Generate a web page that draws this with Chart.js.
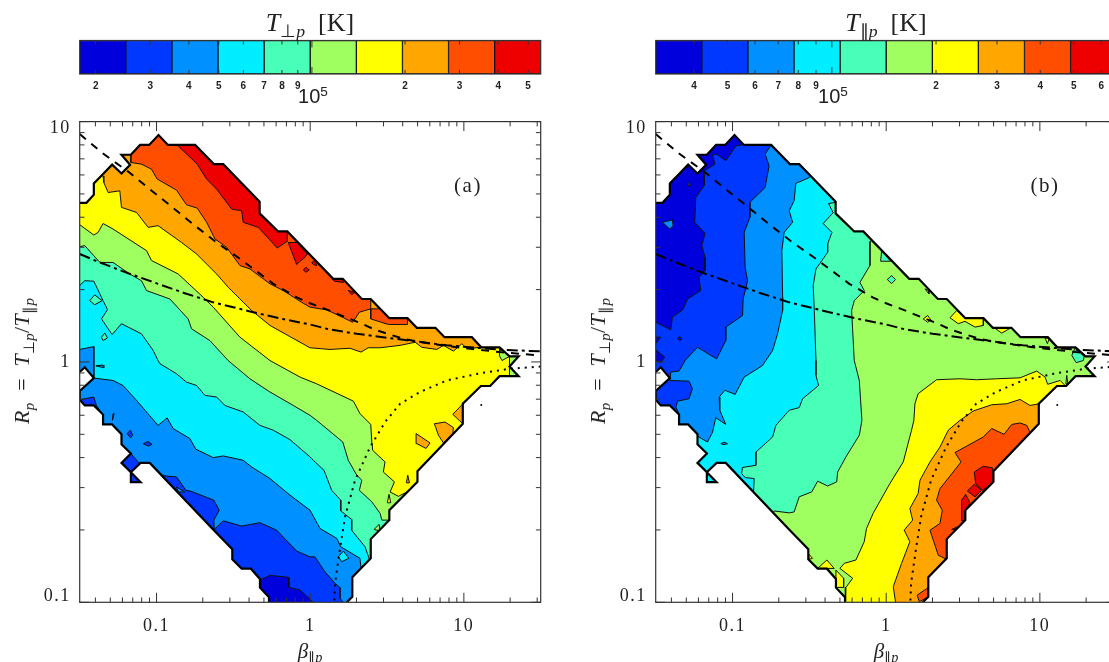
<!DOCTYPE html>
<html>
<head>
<meta charset="utf-8">
<script src="https://cdn.jsdelivr.net/npm/chart.js@4"></script>
<style>
  html, body { margin: 0; background: #fff; overflow: hidden; width: 1109px; height: 662px; }
  canvas { position: absolute; }
  .lab { position: absolute; transform: translate(-50%, -50%); white-space: nowrap; color: #222;
         font-family: "Liberation Serif", serif; }
  .lab sub { font-size: 68%; vertical-align: -0.35em; line-height: 0; }
  .lab sup { font-size: 68%; vertical-align: 0.45em; line-height: 0; }
  .title { font-size: 26px; }
  .ten { font-size: 20px; font-family: "Liberation Sans", sans-serif; }
  .xt { font-size: 21px; }
  .yt { font-size: 22px; letter-spacing: .3px; transform: translate(-50%, -50%) rotate(-90deg); }
  .tag { font-size: 21px; letter-spacing: 1.5px; }
</style>
</head>
<body>
<canvas id="cbA" width="560" height="70" style="left:0;top:30px"></canvas>
<canvas id="cbB" width="577" height="70" style="left:576px;top:30px"></canvas>
<canvas id="panelA" width="560" height="562" style="left:0;top:100px"></canvas>
<canvas id="panelB" width="577" height="562" style="left:576px;top:100px"></canvas>

<div class="lab title" style="left:310px;top:23px"><i>T</i><sub>⊥<i>p</i></sub>&nbsp; [K]</div>
<div class="lab title" style="left:886px;top:23px"><i>T</i><sub>∥<i>p</i></sub>&nbsp; [K]</div>
<div class="lab ten" style="left:313px;top:96px">10<sup>5</sup></div>
<div class="lab ten" style="left:833px;top:96px">10<sup>5</sup></div>
<div class="lab tag" style="left:468px;top:185px">(a)</div>
<div class="lab tag" style="left:1045px;top:185px">(b)</div>
<div class="lab xt" style="left:310px;top:651px"><i>β</i><sub>∥<i>p</i></sub></div>
<div class="lab xt" style="left:886px;top:651px"><i>β</i><sub>∥<i>p</i></sub></div>
<div class="lab yt" style="left:22px;top:361px"><i>R<sub>p</sub></i> &nbsp;= &nbsp;<i>T</i><sub>⊥<i>p</i></sub>/<i>T</i><sub>∥<i>p</i></sub></div>
<div class="lab yt" style="left:598px;top:361px"><i>R<sub>p</sub></i> &nbsp;= &nbsp;<i>T</i><sub>⊥<i>p</i></sub>/<i>T</i><sub>∥<i>p</i></sub></div>

<script>
// all curve points are [log10 beta, log10 R]
const bandColors = ['#0000dc', '#0038ff', '#0090ff', '#00eeff', '#48ffb8', '#a0ff60', '#ffff00', '#ffa600', '#ff4e00', '#ee0000'];

const betaTicks = [.04, .05, .06, .07, .08, .09, .1, .2, .3, .4, .5, .6, .7, .8, .9, 1, 2, 3, 4, 5, 6, 7, 8, 9, 10, 20, 30];
const rTicks = [.1, .2, .3, .4, .5, .6, .7, .8, .9, 1, 2, 3, 4, 5, 6, 7, 8, 9, 10];
const majorTicks = [.1, 1, 10];

const cbTicksA = [2e4, 3e4, 4e4, 5e4, 6e4, 7e4, 8e4, 9e4, 1e5, 2e5, 3e5, 4e5, 5e5];
const cbTicksB = [4e4, 5e4, 6e4, 7e4, 8e4, 9e4, 1e5, 2e5, 3e5, 4e5, 5e5, 6e5];
const cbEdgesA = [17750, 25020, 35270, 49700, 70070, 98740, 139200, 196200, 276500, 389700, 549000];
const cbEdgesB = [30990, 42120, 57230, 77780, 105700, 143600, 195200, 265100, 360300, 489600, 665300];

// occupied region of the plane, same in both panels
const edge = [[-1.5,.662],[-1.456,.662],[-1.408,.696],[-1.408,.743],[-1.348,.782],[-1.289,.821],[-1.228,.784],[-1.172,.82],[-1.228,.862],[-1.167,.862],[-1.107,.903],[-1.048,.903],[-.987,.944],[-.926,.903],[-.749,.903],[-.627,.823],[-.566,.823],[-.329,.667],[-.329,.618],[-.208,.543],[-.149,.543],[.15,.346],[.212,.346],[.336,.262],[.394,.262],[.515,.182],[.633,.182],[.694,.142],[.815,.142],[.874,.103],[1.052,.103],[1.113,.061],[1.232,.061],[1.297,.023],[1.356,.023],[1.297,-.019],[1.356,-.059],[1.232,-.059],[1.171,-.1],[1.111,-.1],[.993,-.174],[.993,-.257],[.698,-.455],[.698,-.499],[.515,-.617],[.515,-.658],[.394,-.737],[.394,-.817],[.274,-.896],[.274,-.977],[.238,-1],[-.268,-1],[-.268,-.979],[-.327,-.939],[-.327,-.903],[-.386,-.86],[-.446,-.86],[-.507,-.821],[-.507,-.779],[-.627,-.7],[-1.044,-.42],[-1.104,-.42],[-1.167,-.459],[-1.104,-.5],[-1.167,-.5],[-1.167,-.459],[-1.228,-.42],[-1.167,-.381],[-1.228,-.343],[-1.228,-.301],[-1.289,-.26],[-1.348,-.26],[-1.348,-.219],[-1.408,-.181],[-1.467,-.181],[-1.5,-.157],[-1.5,-.121],[-1.408,-.067],[-1.467,-.022],[-1.5,-.042]];

const dashedCurve = [[-1.5,.948],[-1.348,.867],[-1.185,.792],[-1.044,.719],[-.902,.646],[-.75,.567],[-.609,.497],[-.457,.429],[-.24,.325],[-.088,.269],[-.001,.244],[.096,.221],[.336,.159],[.422,.134],[.607,.096],[.78,.076],[.954,.061],[1.236,.041],[1.5,.027]];
const dashDotCurve = [[-1.5,.449],[-1.369,.414],[-1.185,.369],[-.99,.325],[-.816,.286],[-.631,.248],[-.371,.207],[-.153,.175],[-.001,.156],[.107,.138],[.303,.117],[.607,.092],[.889,.069],[1.236,.051],[1.5,.044]];
const dottedCurve = [[1.5,-.019],[1.302,-.028],[1.106,-.047],[.889,-.077],[.715,-.125],[.585,-.174],[.487,-.25],[.39,-.354],[.292,-.492],[.227,-.644],[.194,-.776],[.162,-.921],[.157,-1]];
const strayPoint = [[1.113,-.179]];

// corners outside the axes, used to close the level regions
const BL = [-1.6,-1.1], BR = [1.6,-1.1], TR = [1.6,1.1], TL = [-1.6,1.1];

// panel (a), T perp levels
const a1 = [[-.36,-.949],[-.327,-.907],[-.262,-.888],[-.143,-.896],[-.138,-.938],[-.066,-.949],[.031,-1.007],BR,TR,TL,BL];
const a2 = [[-1.565,-.157],[-1.495,-.157],[-1.408,-.146],[-1.391,-.181],[-1.348,-.222],[-1.369,-.368],[-1.239,-.43],[-1.228,-.42],[-1.167,-.381],[-1.115,-.42],[-1.044,-.42],[-.99,-.467],[-.935,-.475],[-.87,-.478],[-.809,-.534],[-.777,-.538],[-.627,-.575],[-.592,-.617],[-.627,-.658],[-.625,-.697],[-.566,-.661],[-.446,-.683],[-.327,-.669],[-.218,-.7],[-.088,-.787],[-.001,-.811],[.031,-.811],[.096,-.873],[.162,-.921],[.194,-.939],[.194,-.983],[.216,-1.001],[.216,-1.032],BR,TR,TL];
const a3 = [[-1.565,.052],[-1.5,.052],[-1.408,.064],[-1.408,-.067],[-1.283,-.077],[-1.218,-.098],[-1.13,-.16],[-.99,-.264],[-.931,-.233],[-.892,-.277],[-.783,-.319],[-.744,-.363],[-.631,-.398],[-.566,-.391],[-.436,-.409],[-.381,-.437],[-.262,-.485],[-.132,-.554],[-.001,-.617],[.064,-.693],[.173,-.734],[.199,-.769],[.324,-.817],[.331,-.863],[.357,-.99],BR,TR,TL];
const a4 = [[-1.565,.318],[-1.5,.318],[-1.467,.338],[-1.408,.336],[-1.348,.255],[-1.319,.218],[-1.358,.179],[-1.289,.114],[-1.228,.159],[-1.098,.117],[-1.022,.048],[-.99,.006],[-.978,-.007],[-.87,-.049],[-.805,-.084],[-.739,-.098],[-.685,-.139],[-.609,-.146],[-.555,-.181],[-.436,-.208],[-.327,-.264],[-.24,-.284],[-.132,-.323],[-.001,-.395],[.02,-.409],[.09,-.451],[.14,-.534],[.199,-.575],[.199,-.62],[.27,-.655],[.27,-.7],[.357,-.769],[.383,-.817],[.422,-.907],BR,TR,TL];
const a5 = [[-1.565,.48],[-1.5,.48],[-1.467,.484],[-1.369,.414],[-1.283,.414],[-1.174,.366],[-1.098,.338],[-1.065,.297],[-.913,.262],[-.794,.179],[-.772,.138],[-.653,.089],[-.534,.006],[-.392,-.07],[-.262,-.125],[-.11,-.181],[-.001,-.222],[.042,-.243],[.212,-.333],[.248,-.409],[.303,-.471],[.336,-.492],[.32,-.534],[.401,-.582],[.455,-.63],[.466,-.658],[.515,-.658],[.552,-.7],BR,TR,TL];
const a6 = [[-1.565,.571],[-1.5,.571],[-1.408,.528],[-1.38,.539],[-1.348,.576],[-1.283,.553],[-1.065,.463],[-1.033,.422],[-.859,.366],[-.696,.269],[-.631,.228],[-.457,.103],[-.262,.006],[-.066,-.063],[.042,-.091],[.281,-.163],[.324,-.215],[.394,-.26],[.401,-.333],[.407,-.368],[.487,-.416],[.476,-.458],[.548,-.499],[.52,-.541],[.574,-.559],[.629,-.541],[.715,-.617],BR,TR,TL];
const a7 = [[-1.413,.782],[-1.348,.774],[-1.343,.747],[-1.315,.705],[-1.239,.712],[-1.228,.643],[-1.13,.622],[-1.055,.56],[-.99,.567],[-.837,.497],[-.739,.449],[-.609,.366],[-.534,.311],[-.381,.214],[-.262,.152],[-.066,.082],[-.001,.059],[.129,.052],[.259,.057],[.331,.041],[.378,.059],[.455,.059],[.585,.069],[.683,.082],[.726,.061],[.824,.052],[.867,.069],[.932,.045],[.987,.076],[1.02,.055],[1.106,.061],[1.2,.12],TR,TL];
const a8 = [[-1.195,.871],[-1.167,.862],[-1.167,.83],[-1.098,.823],[-1.033,.802],[-.996,.761],[-.87,.715],[-.805,.654],[-.735,.64],[-.674,.581],[-.62,.512],[-.544,.477],[-.457,.401],[-.392,.387],[-.262,.325],[-.175,.297],[-.055,.248],[-.001,.228],[.064,.221],[.107,.217],[.216,.184],[.277,.165],[.32,.207],[.394,.221],[.394,.179],[.509,.156],[.633,.156],[.633,.182],[.65,.255],TR,TL];
const a9 = [[-.913,.92],[-.866,.903],[-.735,.823],[-.674,.761],[-.609,.719],[-.511,.636],[-.446,.629],[-.436,.581],[-.338,.56],[-.214,.474],[-.149,.502],[-.149,.543],[-.099,.588],TR];
const aIsles = [
  [3, [[.183,-.811],[.216,-.787],[.251,-.817],[.205,-.831]]],
  [4, [[-1.435,.255],[-1.402,.279],[-1.354,.255],[-1.402,.238]]],
  [4, [[-1.358,.103],[-1.337,.12],[-1.319,.1],[-1.348,.089]]],
  [2, [[-1.395,-.016],[-1.348,-.013],[-1.343,-.024]]],
  [1, [[-1.283,-.215],[-1.276,-.215],[-1.287,-.243]]],
  [1, [[-1.192,-.298],[-1.169,-.284],[-1.156,-.305],[-1.169,-.316]]],
  [1, [[-1.087,-.34],[-1.055,-.331],[-1.029,-.343],[-1.055,-.35]]],
  [2, [[-.87,-.52],[-.816,-.541],[-.859,-.541]]],
  [5, [[.416,-.697],[.448,-.676],[.455,-.703]]],
  [7, [[.689,-.298],[.78,-.337],[.754,-.36],[.694,-.34]]],
  [7, [[.808,-.257],[.878,-.25],[.932,-.273],[.928,-.298],[.867,-.337],[.835,-.305]]],
  [7, [[.928,-.218],[.991,-.176],[.993,-.257]]],
  [7, [[.635,-.471],[.626,-.503],[.646,-.503]]],
  [6, [[.513,-.551],[.502,-.586],[.524,-.586]]],
  [7, [[.394,.258],[.45,.221],[.394,.221]]],
  [9, [[-.143,.497],[-.088,.497],[-.019,.449],[-.034,.435],[-.066,.419],[-.088,.405]]],
  [9, [[-.045,.383],[-.027,.394],[-.006,.383],[-.027,.373]]],
  [9, [[.144,.346],[.212,.346],[.216,.331],[.157,.336]]],
  [9, [[.01,.414],[.031,.422],[.042,.401],[.02,.405]]],
  [9, [[.248,.297],[.292,.29],[.27,.28]]],
  [5, [[1.232,.059],[1.297,.023],[1.248,.006],[1.23,.027]]],
  [5, [[1.297,.023],[1.356,.023],[1.297,-.019]]],
  [5, [[1.297,-.019],[1.356,-.059],[1.297,-.056]]]
];

// panel (b), T parallel levels
const b1 = [[-.913,.927],[-.935,.904],[-.978,.899],[-1.044,.837],[-1.104,.865],[-1.13,.862],[-1.115,.823],[-1.185,.795],[-1.185,.733],[-1.239,.684],[-1.246,.581],[-1.179,.535],[-1.2,.484],[-1.179,.435],[-1.179,.38],[-1.218,.352],[-1.207,.297],[-1.293,.262],[-1.322,.218],[-1.391,.186],[-1.402,.134],[-1.5,.165],[-1.565,.165],BL,BR,TR];
const b2 = [[-.762,.92],[-.749,.903],[-.788,.865],[-.762,.816],[-.788,.726],[-.887,.664],[-.887,.601],[-.924,.539],[-.918,.394],[-.902,.338],[-.931,.262],[-.935,.193],[-1.044,.145],[-1.044,.089],[-1.076,.048],[-1.104,.013],[-1.195,.048],[-1.228,.061],[-1.309,.006],[-1.348,-.038],[-1.402,-.042],[-1.408,-.077],[-1.283,-.08],[-1.261,-.111],[-1.283,-.153],[-1.358,-.163],[-1.369,-.188],[-1.348,-.215],[-1.402,-.264],BL,BR,TR];
const b3 = [[-.479,.788],[-.501,.767],[-.588,.743],[-.599,.671],[-.631,.629],[-.609,.581],[-.664,.539],[-.679,.463],[-.674,.269],[-.674,.214],[-.707,.117],[-.739,.048],[-.805,-.015],[-.924,-.063],[-.983,-.135],[-1.05,-.118],[-1.087,-.146],[-1.083,-.201],[-1.044,-.26],[-1.109,-.232],[-1.13,-.292],[-1.163,-.333],[-1.228,-.309],[-1.337,-.309],BL,BR,TR];
const b4 = [[-.262,.671],[-.375,.659],[-.345,.621],[-.41,.576],[-.353,.539],[-.381,.491],[-.381,.456],[-.457,.387],[-.475,.318],[-.468,.214],[-.457,.006],[-.457,-.056],[-.44,-.098],[-.544,-.153],[-.566,-.19],[-.631,-.201],[-.718,-.264],[-.739,-.312],[-.848,-.375],[-.848,-.43],[-.935,-.439],[-.941,-.464],[-.918,-.481],[-.859,-.485],[-.863,-.538],[-.913,-.561],BL,BR,TR];
const b5 = [[-.066,.518],[-.106,.5],[-.106,.401],[-.171,.331],[-.143,.297],[-.208,.255],[-.225,.214],[-.208,.006],[-.175,-.077],[-.158,-.243],[-.175,-.305],[-.262,-.395],[-.316,-.458],[-.322,-.499],[-.381,-.516],[-.446,-.496],[-.485,-.541],[-.566,-.561],[-.599,-.624],[-.631,-.628],[-.729,-.62],[-.762,-.658],BL,BR,TR];
const b6 = [[1.3,-.1],[1.164,-.098],[1.132,-.077],[1.051,-.093],[1.034,-.063],[.98,-.038],[.871,-.066],[.719,-.07],[.589,-.074],[.48,-.07],[.328,-.074],[.208,-.132],[.187,-.174],[.18,-.243],[.165,-.284],[.111,-.416],[.024,-.506],[-.085,-.63],[-.128,-.693],[-.143,-.748],[-.197,-.824],[-.273,-.838],[-.301,-.859],[-.218,-.9],[-.262,-.938],[-.262,-.983],[-.268,-1],[-.268,-1.1],BR];
const b7 = [[1.045,-.174],[.997,-.174],[.936,-.181],[.871,-.156],[.784,-.174],[.687,-.178],[.567,-.204],[.48,-.243],[.404,-.284],[.35,-.354],[.285,-.416],[.22,-.492],[.208,-.547],[.154,-.61],[.172,-.658],[.117,-.7],[.154,-.748],[.1,-.838],[.046,-.935],[.061,-1],[.061,-1.1],BR];
const b8 = [[.98,-.298],[.936,-.294],[.915,-.264],[.871,-.254],[.817,-.26],[.767,-.301],[.687,-.277],[.632,-.312],[.448,-.377],[.487,-.416],[.436,-.458],[.35,-.527],[.328,-.575],[.365,-.617],[.35,-.672],[.285,-.7],[.339,-.804],[.393,-.821],[.48,-.852],BR];
const bIsles = [
  [2, [[-1.456,.581],[-1.391,.591],[-1.387,.567],[-1.408,.553]]],
  [1, [[-1.293,.743],[-1.283,.747],[-1.272,.737],[-1.283,.73]]],
  [0, [[-1.358,.099],[-1.343,.106],[-1.33,.096],[-1.343,.089]]],
  [0, [[-1.5,.103],[-1.467,.103],[-1.5,.076]]],
  [0, [[-1.5,.051],[-1.441,.02],[-1.467,-.001],[-1.5,.006]]],
  [2, [[-1.076,-.34],[-1.055,-.334],[-1.033,-.34],[-1.055,-.344]]],
  [4, [[-.03,.463],[.029,.419],[-.036,.419]]],
  [4, [[.007,.343],[.035,.359],[.061,.343],[.035,.326]]],
  [6, [[.241,.179],[.27,.193],[.291,.175],[.27,.165]]],
  [6, [[.415,.184],[.459,.214],[.513,.182],[.632,.182],[.632,.152],[.578,.145],[.513,.169],[.469,.159]]],
  [6, [[.708,.14],[.806,.14],[.752,.12]]],
  [6, [[1.034,.099],[1.062,.099],[1.049,.076]]],
  [6, [[.252,.304],[.274,.297],[.278,.283]]],
  [4, [[1.229,.059],[1.288,.023],[1.283,.006],[1.236,-.003],[1.208,.027]]],
  [6, [[1.175,-.056],[1.182,-.091],[1.169,-.091]]],
  [6, [[-.446,-.859],[-.386,-.824],[-.338,-.859]]],
  [6, [[-.505,-.799],[-.479,-.817],[-.501,-.821]]],
  [6, [[-.327,-.866],[-.277,-.9],[-.277,-.938],[-.327,-.938]]],
  [8, [[.202,-.97],[.274,-.939],[.274,-.977],[.215,-.998]]],
  [9, [[.573,-.458],[.632,-.434],[.693,-.441],[.697,-.499],[.628,-.534],[.582,-.506]]],
  [9, [[.528,-.537],[.573,-.509],[.621,-.534],[.578,-.561]]],
  [9, [[.491,-.575],[.517,-.551],[.545,-.586],[.513,-.624],[.513,-.661],[.487,-.658]]],
  [9, [[.426,-.697],[.463,-.686],[.448,-.697]]]
];

const toXY = list => list.map(([b, r]) => ({ x: 10 ** b, y: 10 ** r }));
const closed = list => list.concat([list[0]]);

function polygon(list, band, borderWidth) {
  return { data: toXY(list), showLine: true, fill: 'shape', tension: 0, pointRadius: 0,
           backgroundColor: bandColors[band], borderColor: '#111', borderWidth: borderWidth };
}

function curve(list, dash, width) {
  return { data: toXY(list), showLine: true, fill: false, tension: 0, pointRadius: 0,
           borderColor: '#000', borderWidth: width, borderDash: dash };
}

// draws box and inward ticks, clips the level fills to the occupied region
function panelPlugin(lastFilled) {
  return {
    id: 'panelPlugin',
    beforeDraw(chart) {
      chart.ctx.letterSpacing = '1.5px';
    },
    beforeDatasetsDraw(chart) {
      const { ctx, scales } = chart;
      ctx.save();
      ctx.beginPath();
      toXY(edge).forEach((p, i) => {
        const x = scales.x.getPixelForValue(p.x), y = scales.y.getPixelForValue(p.y);
        i ? ctx.lineTo(x, y) : ctx.moveTo(x, y);
      });
      ctx.closePath();
      ctx.clip();
    },
    afterDatasetDraw(chart, args) {
      if (args.index === lastFilled) chart.ctx.restore();
    },
    afterDatasetsDraw(chart) {
      drawFrame(chart, 9.5, 4.8, true);
    }
  };
}

const barFrame = { id: 'barFrame', afterDatasetsDraw(chart) { drawFrame(chart, 7, 4, false); } };

function drawFrame(chart, bigLen, smallLen, withY) {
  const { ctx, chartArea: a, scales } = chart;
  ctx.save();
  ctx.strokeStyle = '#333';
  ctx.lineWidth = 1.2;
  ctx.strokeRect(a.left, a.top, a.right - a.left, a.bottom - a.top);
  ctx.lineWidth = 1;
  ctx.beginPath();
  scales.x.ticks.forEach(t => {
    const x = scales.x.getPixelForValue(t.value);
    const len = (majorTicks.includes(t.value) || t.value === 1e5) ? bigLen : smallLen;
    ctx.moveTo(x, a.top); ctx.lineTo(x, a.top + len);
    ctx.moveTo(x, a.bottom); ctx.lineTo(x, a.bottom - len);
  });
  if (withY) scales.y.ticks.forEach(t => {
    const y = scales.y.getPixelForValue(t.value);
    const len = majorTicks.includes(t.value) ? bigLen : smallLen;
    ctx.moveTo(a.left, y); ctx.lineTo(a.left + len, y);
    ctx.moveTo(a.right, y); ctx.lineTo(a.right - len, y);
  });
  ctx.stroke();
  ctx.restore();
}

function makePanel(id, levels, isles) {
  const sets = [polygon(edge, 0, 0)];
  levels.forEach((lv, i) => sets.push(polygon(lv, i + 1, 1)));
  isles.forEach(([band, list]) => sets.push(polygon(closed(list), band, 1)));
  const lastFilled = sets.length - 1;
  sets.push({
    ...curve(edge, [], 2.2),
    segment: { borderColor: c => (c.p0.parsed.y <= .1001 && c.p1.parsed.y <= .1001) ? 'transparent' : '#000' }
  });
  sets.push(curve(dashedCurve, [8, 7], 2));
  sets.push(curve(dashDotCurve, [11, 4, 3, 4], 2));
  sets.push(curve(dottedCurve, [2, 5], 2));
  sets.push({ data: toXY(strayPoint), pointRadius: 1, backgroundColor: '#000', borderWidth: 0, showLine: false });
  // first drawn gets the highest order
  sets.forEach((s, i) => { s.order = sets.length - i; });

  const font = { family: '"Liberation Serif", serif', size: 18 };
  return new Chart(document.getElementById(id), {
    type: 'scatter',
    data: { datasets: sets },
    plugins: [panelPlugin(lastFilled)],
    options: {
      responsive: false,
      animation: false,
      events: [],
      layout: { autoPadding: false, padding: { left: 0, top: 20.7, right: document.getElementById(id).width - 540.7, bottom: 0 } },
      plugins: { legend: { display: false }, tooltip: { enabled: false }, filler: { propagate: false } },
      scales: {
        x: {
          type: 'logarithmic', min: 10 ** -1.5, max: 10 ** 1.5,
          grid: { display: false, drawTicks: false }, border: { display: false },
          afterBuildTicks: s => { s.ticks = betaTicks.map(v => ({ value: v })); },
          afterFit: s => { s.height = 59.7; },
          ticks: { autoSkip: false, maxRotation: 0, padding: 13, color: '#222', font,
                   callback: v => majorTicks.includes(v) ? String(v) : '' }
        },
        y: {
          type: 'logarithmic', min: .1, max: 10,
          grid: { display: false, drawTicks: false }, border: { display: false },
          afterBuildTicks: s => { s.ticks = rTicks.map(v => ({ value: v })); },
          afterFit: s => { s.width = 79.7; },
          ticks: { autoSkip: false, padding: 9, color: '#222', font: { ...font, lineHeight: .7 },
                   callback: v => v === 10 ? ['', '10'] : v === .1 ? ['0.1', ''] : v === 1 ? '1' : '' }
        }
      }
    }
  });
}

function makeBar(id, edges, ticks) {
  const sets = bandColors.map((c, i) => ({
    data: [[edges[i], edges[i + 1]]], backgroundColor: c, borderColor: '#111', borderWidth: 1,
    borderSkipped: false, grouped: false, barPercentage: 1, categoryPercentage: 1
  }));
  return new Chart(document.getElementById(id), {
    type: 'bar',
    data: { labels: [''], datasets: sets },
    plugins: [barFrame],
    options: {
      indexAxis: 'y',
      responsive: false,
      animation: false,
      events: [],
      layout: { autoPadding: false, padding: { left: 0, top: 10.5, right: document.getElementById(id).width - 540.7, bottom: 0 } },
      plugins: { legend: { display: false }, tooltip: { enabled: false } },
      scales: {
        y: { display: true, grid: { display: false, drawTicks: false }, border: { display: false },
             ticks: { display: false }, afterFit: s => { s.width = 79.7; } },
        x: {
          type: 'logarithmic', min: edges[0], max: edges[edges.length - 1],
          grid: { display: false, drawTicks: false }, border: { display: false },
          afterBuildTicks: s => { s.ticks = ticks.map(v => ({ value: v })); },
          afterFit: s => { s.height = 26; },
          ticks: { autoSkip: false, maxRotation: 0, padding: 6, color: '#222',
                   font: { family: '"Liberation Sans", sans-serif', size: 10, weight: 'bold' },
                   callback: v => v === 1e5 ? '' : String(v).charAt(0) }
        }
      }
    }
  });
}

makeBar('cbA', cbEdgesA, cbTicksA);
makeBar('cbB', cbEdgesB, cbTicksB);
makePanel('panelA', [a1, a2, a3, a4, a5, a6, a7, a8, a9], aIsles);
makePanel('panelB', [b1, b2, b3, b4, b5, b6, b7, b8], bIsles);
</script>
</body>
</html>
